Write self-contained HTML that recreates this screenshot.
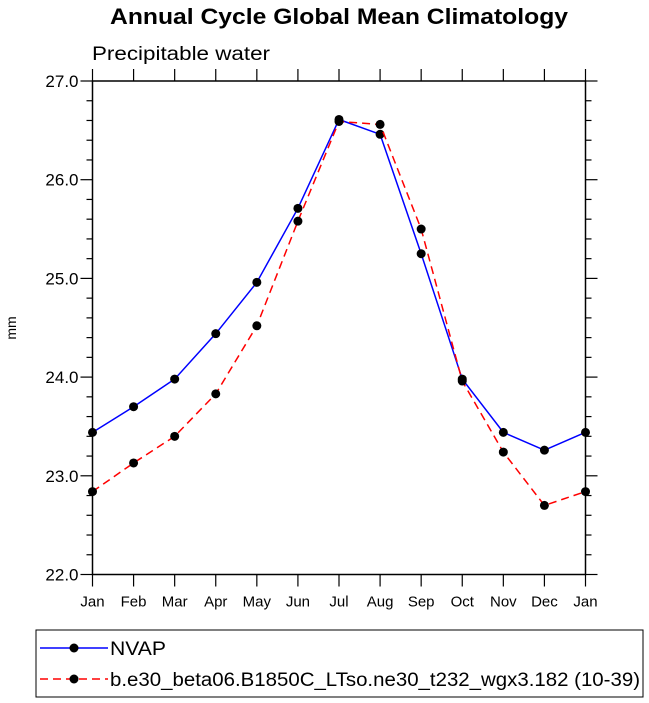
<!DOCTYPE html>
<html><head><meta charset="utf-8"><style>body{margin:0;background:#fff}svg{display:block;font-family:"Liberation Sans",Arial,sans-serif}</style></head>
<body>
<svg id="c" width="649" height="703">
<text x="110" y="24" textLength="458" lengthAdjust="spacingAndGlyphs" font-size="22" font-weight="bold">Annual Cycle Global Mean Climatology</text>
<text x="92" y="60" textLength="178" lengthAdjust="spacingAndGlyphs" font-size="19">Precipitable water</text>
<text x="16" y="328" font-size="14" text-anchor="middle" transform="rotate(-90 16 328)">mm</text>
<g id="axes"></g><g id="series"></g>
<rect x="36" y="630" width="607" height="67" fill="none" stroke="#000" stroke-width="1"/>
<g><line x1="40" y1="648" x2="108" y2="648" stroke="#00f" stroke-width="1.5"/><circle cx="74" cy="648" r="4.5"/><text x="110" y="655" font-size="19" textLength="56" lengthAdjust="spacingAndGlyphs">NVAP</text></g>
<g><line x1="40" y1="679" x2="108" y2="679" stroke="#f00" stroke-width="1.5" stroke-dasharray="8,5"/><circle cx="74" cy="679" r="4.5"/><text x="110" y="686" font-size="19" textLength="530" lengthAdjust="spacingAndGlyphs">b.e30_beta06.B1850C_LTso.ne30_t232_wgx3.182 (10-39)</text></g>
</svg>
<script>
const months=["Jan","Feb","Mar","Apr","May","Jun","Jul","Aug","Sep","Oct","Nov","Dec","Jan"];
const nvap=[23.44,23.70,23.98,24.44,24.96,25.71,26.61,26.46,25.25,23.98,23.44,23.26,23.44];
const model=[22.84,23.13,23.40,23.83,24.52,25.58,26.59,26.56,25.50,23.96,23.24,22.70,22.84];
const yTicks=[22.0,23.0,24.0,25.0,26.0,27.0];
const L=92.5,R=585.5,T=81,B=574.5,ymin=22,ymax=27;
const NS="http://www.w3.org/2000/svg";
const xs=i=>L+(R-L)*i/(months.length-1);
const ys=v=>B-(B-T)*(v-ymin)/(ymax-ymin);
const ax=document.getElementById('axes'),sg=document.getElementById('series');
function mk(t,a,p){const e=document.createElementNS(NS,t);for(const k in a)e.setAttribute(k,a[k]);p.appendChild(e);return e;}
const fr=mk('rect',{x:L,y:T,width:R-L,height:B-T,fill:'none',stroke:'#000','stroke-width':1.5},ax);


for(let v=ymin;v<=ymax+1e-6;v+=0.2){const y=ys(v);const maj=Math.abs(v-Math.round(v))<1e-6;const len=maj?12:6;
 mk('line',{x1:L-len,y1:y,x2:L,y2:y,stroke:'#000','stroke-width':1.2},ax);
 mk('line',{x1:R,y1:y,x2:R+len,y2:y,stroke:'#000','stroke-width':1.2},ax);}
yTicks.forEach(v=>{const t=mk('text',{x:L-14,y:ys(v)+6,'text-anchor':'end','font-size':17},ax);t.textContent=v.toFixed(1);
 
 });
months.forEach((m,i)=>{const x=xs(i);
 mk('line',{x1:x,y1:B,x2:x,y2:B+12,stroke:'#000','stroke-width':1.2},ax);
 mk('line',{x1:x,y1:T-12,x2:x,y2:T,stroke:'#000','stroke-width':1.2},ax);
 const t=mk('text',{x:x,y:B+32,'text-anchor':'middle','font-size':15},ax);t.textContent=m;
 
 });
function draw(vals,col,dash,name){
 const l=mk('polyline',{points:vals.map((v,i)=>xs(i)+','+ys(v)).join(' '),fill:'none',stroke:col,'stroke-width':1.5,'stroke-dasharray':dash},sg);
 
 
 vals.forEach((v,i)=>{const c=mk('circle',{cx:xs(i),cy:ys(v),r:4.5,fill:'#000'},sg);
 
 });}
draw(nvap,'#00f','none','nvap');
draw(model,'#f00','8,5','model');
</script>
</body></html>
